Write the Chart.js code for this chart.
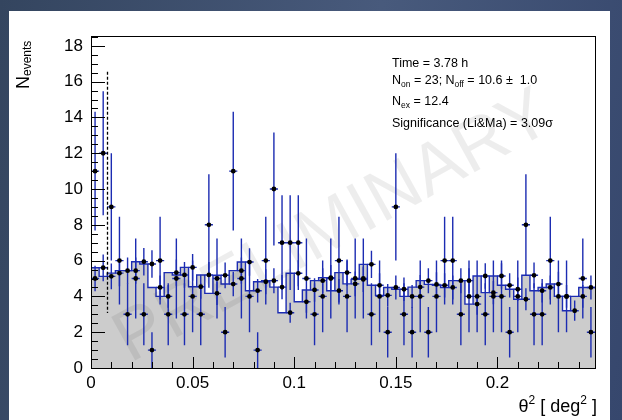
<!DOCTYPE html>
<html lang="en">
<head>
<meta charset="UTF-8">
<title>theta2 plot</title>
<script src="https://cdn.jsdelivr.net/npm/chart.js"></script>
<style>
  html, body { margin: 0; padding: 0; }
  body { width: 622px; height: 420px; overflow: hidden; position: relative;
         background: linear-gradient(100deg, #34455f 0%, #485a7c 55%, #36476d 100%); }
  #pad { position: absolute; left: 9px; top: 11px; width: 601px; height: 409px; background: #fff; }
  #wrap { position: absolute; left: 0; top: 0; width: 622px; height: 420px; }
</style>
</head>
<body>
<div id="pad"></div>
<div id="wrap"><canvas id="myChart" width="622" height="420"></canvas></div>
<script>
// histogram binning (theta^2, deg^2)
const binWidth = 0.004;
const xMax = 0.248;
const yMax = 18.55;
const xTicks = [0, 0.05, 0.1, 0.15, 0.2];
const yTicks = [0, 2, 4, 6, 8, 10, 12, 14, 16, 18];

// ON events per bin
const onCounts = [11, 12, 9, 6, 3, 5, 3, 1, 6, 3, 5, 3, 4, 3, 8, 5, 2, 11, 5, 4,
                  1, 6, 10, 7, 7, 7, 5, 3, 4, 5, 6, 4, 5, 5, 3, 4, 2, 9, 3, 2,
                  4, 2, 4, 6, 6, 3, 4, 4, 3, 4, 4, 2, 4, 8, 3, 3, 6, 4, 4, 0,
                  5, 2];
// OFF events per bin (normalised)
const offCounts = [5.0, 5.6, 5.12, 5.3, 5.44, 5.44, 5.94, 5.81, 4.5, 4.0, 5.33, 5.2, 5.62, 4.54, 5.2, 4.17, 5.18, 4.69, 5.44, 5.92,
                   4.32, 4.82, 4.88, 4.52, 3.09, 5.29, 3.7, 4.36, 4.88, 5.05, 4.32, 5.33, 4.7, 4.95, 5.79, 4.62, 4.06, 4.5, 4.4, 4.0,
                   4.52, 4.88, 4.67, 4.62, 4.5, 4.88, 4.88, 3.57, 5.14, 4.21, 5.14, 4.62, 4.4, 3.84, 5.18, 4.32, 4.5, 4.69, 4.0, 3.2,
                   4.0, 4.5];
const offNorm = 0.1;   // on/off exposure ratio

// theta^2 cut marker
const cutX = 0.008;
const cutRange = [3.07, 16.55];

const blue = 'rgb(28,44,178)';
const fontFam = '"Liberation Sans", Arial, Helvetica, sans-serif';

const edges = offCounts.map((_, i) => i * binWidth);
const centers = edges.map(e => e + binWidth / 2);

const histData = offCounts.map((v, i) => ({x: edges[i], y: v}));
histData.push({x: xMax, y: offCounts[offCounts.length - 1]});

const offPoints = offCounts.map((v, i) => ({x: centers[i], y: v, err: Math.sqrt(offNorm * v)}));
const onPoints = [];
onCounts.forEach((v, i) => {
    if (v > 0) onPoints.push({x: centers[i], y: v, err: Math.sqrt(v)});
});

function drawRich(ctx, parts, x, y, align) {
    let w = 0;
    parts.forEach(p => {
        ctx.font = p.size + 'px ' + fontFam;
        p.w = ctx.measureText(p.t).width;
        w += p.w;
    });
    let cx = align === 'right' ? x - w : x;
    parts.forEach(p => {
        ctx.font = p.size + 'px ' + fontFam;
        ctx.fillText(p.t, cx, y + (p.dy || 0));
        cx += p.w;
    });
}

const rootPlugin = {
    id: 'rootStyle',
    afterDatasetDraw(chart, args) {
        const ds = chart.data.datasets[args.index];
        if (!ds.isHist) return;
        const ctx = chart.ctx;
        const xs = chart.scales.x, ys = chart.scales.y;
        const area = chart.chartArea;

        // PRELIMINARY watermark
        ctx.save();
        ctx.beginPath();
        ctx.rect(area.left, area.top, area.right - area.left, area.bottom - area.top);
        ctx.clip();
        ctx.translate(area.left + 0.5 * (area.right - area.left), area.top + 0.63 * (area.bottom - area.top));
        ctx.rotate(-29 * Math.PI / 180);
        ctx.font = '72px ' + fontFam;
        ctx.fillStyle = 'rgba(0,0,0,0.07)';
        ctx.textAlign = 'center';
        ctx.fillText('PRELIMINARY', 0, 0);
        ctx.restore();

        // error bars
        ctx.save();
        ctx.strokeStyle = blue;
        ctx.lineWidth = 1.4;
        [offPoints, onPoints].forEach(pts => {
            pts.forEach(p => {
                const px = xs.getPixelForValue(p.x);
                const py = ys.getPixelForValue(p.y);
                const top = ys.getPixelForValue(Math.min(p.y + p.err, yMax));
                const bot = ys.getPixelForValue(Math.max(p.y - p.err, 0));
                const xl = xs.getPixelForValue(p.x - binWidth / 2);
                const xr = xs.getPixelForValue(p.x + binWidth / 2);
                ctx.beginPath();
                ctx.moveTo(px, top);
                ctx.lineTo(px, bot);
                ctx.moveTo(xl, py);
                ctx.lineTo(xr, py);
                ctx.stroke();
            });
        });
        ctx.restore();

        // cut line
        ctx.save();
        ctx.strokeStyle = '#000';
        ctx.lineWidth = 1.3;
        ctx.setLineDash([3, 2]);
        const cx = Math.round(xs.getPixelForValue(cutX)) + 0.5;
        ctx.beginPath();
        ctx.moveTo(cx, ys.getPixelForValue(cutRange[1]));
        ctx.lineTo(cx, ys.getPixelForValue(cutRange[0]));
        ctx.stroke();
        ctx.restore();
    },
    afterDraw(chart) {
        const ctx = chart.ctx;
        const xs = chart.scales.x, ys = chart.scales.y;
        const a = chart.chartArea;
        ctx.save();
        // frame
        ctx.strokeStyle = '#000';
        ctx.lineWidth = 1;
        ctx.strokeRect(Math.round(a.left) + 0.5, Math.round(a.top) + 0.5,
                       Math.round(a.right - a.left), Math.round(a.bottom - a.top));
        // ticks
        ctx.beginPath();
        for (let k = 0; k * 0.01 <= xMax + 1e-9; k++) {
            const px = Math.round(xs.getPixelForValue(k * 0.01)) + 0.5;
            const len = k % 5 === 0 ? 11 : 6;
            ctx.moveTo(px, a.bottom);
            ctx.lineTo(px, a.bottom - len);
        }
        for (let k = 0; k * 0.5 <= yMax; k++) {
            const py = Math.round(ys.getPixelForValue(k * 0.5)) + 0.5;
            const len = k % 4 === 0 ? 14 : 7;
            ctx.moveTo(a.left, py);
            ctx.lineTo(a.left + len, py);
        }
        ctx.stroke();

        ctx.fillStyle = '#000';
        ctx.textBaseline = 'alphabetic';
        // x title
        drawRich(ctx, [
            {t: '\u03b8', size: 18},
            {t: '2', size: 12, dy: -8},
            {t: ' [ deg', size: 18},
            {t: '2', size: 12, dy: -8},
            {t: ' ]', size: 18}
        ], 597, 412, 'right');

        // y title
        ctx.save();
        ctx.translate(29, 89);
        ctx.rotate(-Math.PI / 2);
        drawRich(ctx, [
            {t: 'N', size: 18},
            {t: 'events', size: 12, dy: 2}
        ], 0, 0, 'left');
        ctx.restore();

        // statistics
        const sx = 392;
        drawRich(ctx, [{t: 'Time = 3.78 h', size: 12.5}], sx, 67);
        drawRich(ctx, [
            {t: 'N', size: 12.5},
            {t: 'on', size: 8.5, dy: 3},
            {t: ' = 23; N', size: 12.5},
            {t: 'off', size: 8.5, dy: 3},
            {t: ' = 10.6 \u00b1  1.0', size: 12.5}
        ], sx, 84);
        drawRich(ctx, [
            {t: 'N', size: 12.5},
            {t: 'ex', size: 8.5, dy: 3},
            {t: ' = 12.4', size: 12.5}
        ], sx, 105);
        drawRich(ctx, [{t: 'Significance (Li&Ma) = 3.09\u03c3', size: 12.5}], sx, 127);
        ctx.restore();
    }
};

const config = {
    data: {
        datasets: [
            {
                type: 'scatter',
                label: 'ON',
                data: onPoints,
                pointRadius: 2.4,
                pointBackgroundColor: '#000',
                pointBorderWidth: 0,
                order: 0
            },
            {
                type: 'scatter',
                label: 'OFF points',
                data: offPoints,
                pointRadius: 2.4,
                pointBackgroundColor: '#000',
                pointBorderWidth: 0,
                order: 1
            },
            {
                type: 'line',
                label: 'OFF',
                isHist: true,
                data: histData,
                stepped: 'after',
                fill: 'origin',
                backgroundColor: '#cccccc',
                borderColor: blue,
                borderWidth: 1.4,
                pointRadius: 0,
                order: 2
            }
        ]
    },
    options: {
        responsive: false,
        animation: false,
        devicePixelRatio: 1,
        layout: { padding: { left: 0, top: 36, right: 27, bottom: 0 } },
        plugins: { legend: { display: false }, tooltip: { enabled: false } },
        scales: {
            x: {
                type: 'linear',
                min: 0,
                max: xMax,
                grid: { display: false, drawTicks: false },
                border: { display: false },
                afterBuildTicks: s => { s.ticks = xTicks.map(v => ({value: v})); },
                afterFit: s => { s.height = 52; },
                ticks: {
                    color: '#000',
                    font: { family: fontFam, size: 17 },
                    padding: 5,
                    maxRotation: 0,
                    autoSkip: false,
                    callback: v => String(+v.toFixed(3))
                }
            },
            y: {
                type: 'linear',
                min: 0,
                max: yMax,
                grid: { display: false, drawTicks: false },
                border: { display: false },
                afterBuildTicks: s => { s.ticks = yTicks.map(v => ({value: v})); },
                afterFit: s => { s.width = 91; },
                ticks: {
                    color: '#000',
                    font: { family: fontFam, size: 17 },
                    padding: 8,
                    callback: v => String(v)
                }
            }
        }
    },
    plugins: [rootPlugin]
};

const ctx = document.getElementById('myChart').getContext('2d');
const myChart = new Chart(ctx, config);
</script>
</body>
</html>
